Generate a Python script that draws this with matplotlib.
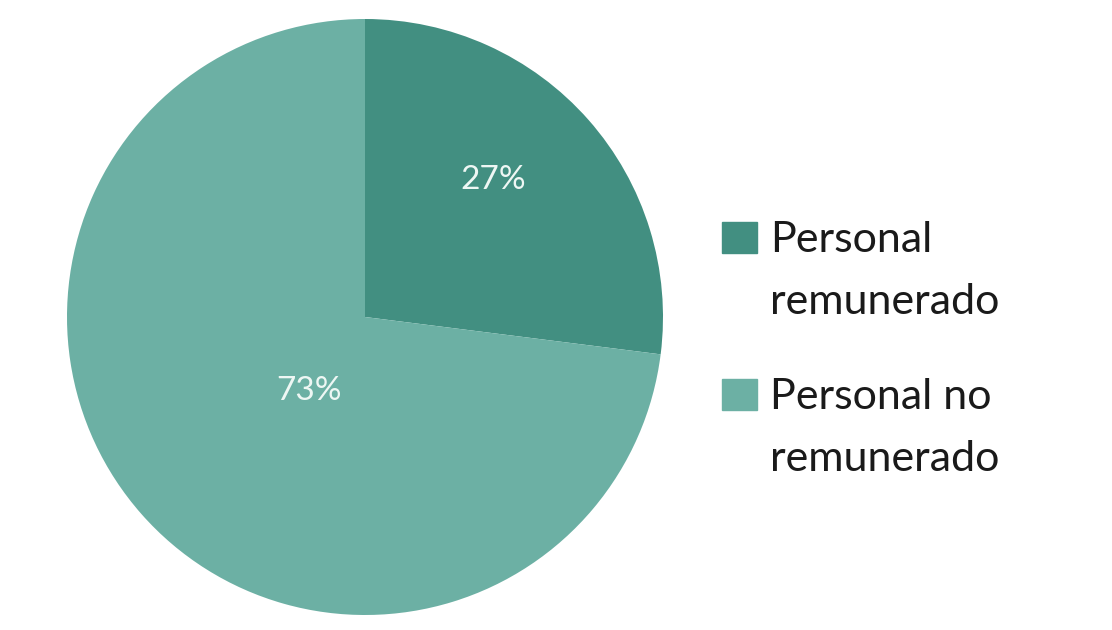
import numpy as np
import matplotlib.pyplot as plt
from matplotlib.patches import Rectangle

plt.rcParams['font.family'] = ['Lato', 'DejaVu Sans']

labels = ['Personal\nremunerado', 'Personal no\nremunerado']
values = [27, 73]
colors = ['#428f81', '#6cb0a4']

W, H = 1112, 630
fig = plt.figure(figsize=(W / 100, H / 100), dpi=100)
ax = fig.add_axes([67 / W, 15 / H, 596 / W, 596 / H])

wedges, _ = ax.pie(values, colors=colors, startangle=90, counterclock=False,
                   radius=1.0, wedgeprops=dict(linewidth=0))
ax.set_xlim(-1, 1)
ax.set_ylim(-1, 1)
ax.set_aspect('equal')
ax.axis('off')

# percent labels placed inside each wedge
label_pos = [(0.63, 47), (0.31, 233)]
for v, (r, ang) in zip(values, label_pos):
    a = np.deg2rad(ang)
    ax.text(r * np.cos(a), r * np.sin(a), f'{v}%', ha='center', va='center',
            fontsize=24, color='#eef7f4')

# legend drawn by hand: square + two-line label
for i, (lab, c) in enumerate(zip(labels, colors)):
    top = 222 + i * 157
    fig.patches.append(Rectangle((722 / W, 1 - (top + 31) / H), 35 / W, 31 / H,
                                 transform=fig.transFigure, color=c))
    for j, line in enumerate(lab.split('\n')):
        fig.text(770 / W, 1 - (top + 30 + j * 62) / H, line, ha='left',
                 va='baseline', fontsize=31, color='#1a1a1a')

fig.savefig('out.png', dpi=100, facecolor='white')
